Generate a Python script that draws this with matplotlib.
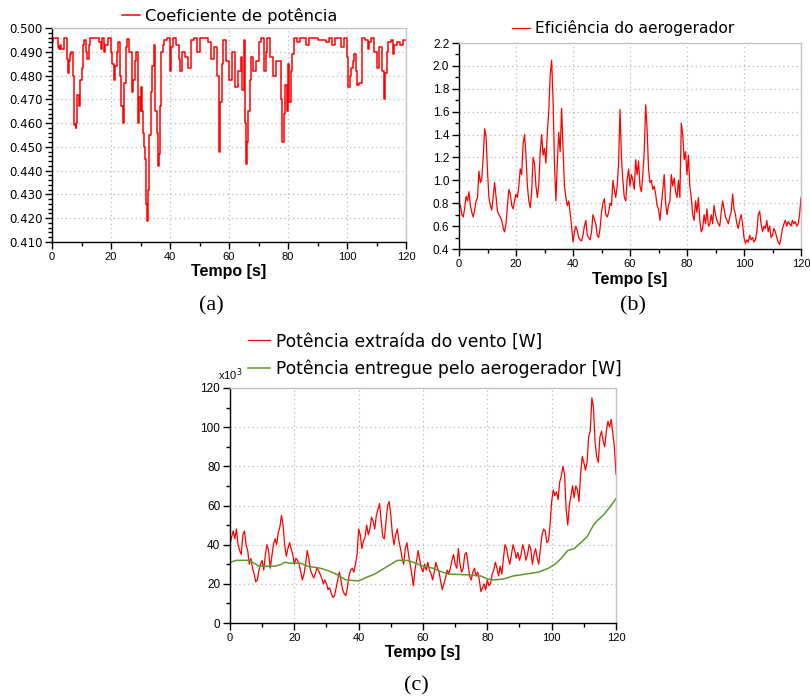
import numpy as np
import matplotlib
matplotlib.use("Agg")
import matplotlib.pyplot as plt
from matplotlib.ticker import MultipleLocator, FormatStrFormatter

# ---------------- data ----------------
# (a) power coefficient
t_cp = [0, 0.5, 2, 2.5, 2.8, 3, 4, 5, 5.3, 5.6,
        6, 6.5, 7, 7.3, 7.5, 8, 8.3, 8.6, 9, 9.5,
        10, 10.5, 11, 11.5, 12, 12.5, 13, 16, 16.5, 17,
        17.5, 18, 19, 20, 20.5, 21, 21.5, 22, 22.5, 23,
        23.5, 24, 24.5, 25, 25.5, 26, 27, 27.5, 28, 28.5,
        29, 29.3, 29.6, 30, 30.3, 30.6, 31, 31.3, 31.6, 32,
        32.3, 32.6, 32.8, 33, 33.5, 34, 34.5, 34.8, 35, 35.5,
        36, 36.3, 36.6, 37, 37.5, 38, 39, 40, 40.5, 41,
        42, 43, 43.5, 44, 45, 46, 47, 48, 49, 50,
        53, 54, 55, 56, 56.5, 57, 57.5, 58, 59, 60,
        61, 62, 63, 64, 64.5, 65, 65.5, 65.8, 66.2, 66.6,
        67, 67.5, 68, 69, 70, 71, 72, 72.5, 73, 74,
        75, 76, 77, 77.5, 78, 78.5, 79, 79.5, 80, 80.5,
        81, 81.5, 82, 83, 84, 86, 87, 90, 93, 94,
        95, 96, 98, 99, 100, 100.5, 101, 101.5, 102, 102.5,
        103, 103.5, 104, 105, 106, 107, 107.5, 108, 109, 110,
        111, 112, 112.5, 113, 113.5, 114, 115, 115.5, 116, 117,
        118, 119, 120]
cp = [0.494, 0.496, 0.492, 0.491, 0.493, 0.491, 0.496, 0.487, 0.481, 0.486,
      0.489, 0.490, 0.480, 0.473, 0.459, 0.458, 0.460, 0.472, 0.467, 0.478,
      0.483, 0.493, 0.495, 0.490, 0.487, 0.493, 0.496, 0.494, 0.491, 0.496,
      0.490, 0.493, 0.496, 0.490, 0.485, 0.478, 0.484, 0.490, 0.494, 0.480,
      0.467, 0.460, 0.477, 0.492, 0.4955, 0.490, 0.473, 0.478, 0.486, 0.490,
      0.484, 0.460, 0.471, 0.465, 0.475, 0.465, 0.456, 0.450, 0.445, 0.426,
      0.419, 0.432, 0.440, 0.455, 0.473, 0.484, 0.493, 0.478, 0.465, 0.456,
      0.442, 0.447, 0.467, 0.490, 0.493, 0.495, 0.496, 0.482, 0.492, 0.496,
      0.493, 0.487, 0.482, 0.490, 0.488, 0.483, 0.495, 0.496, 0.490, 0.496,
      0.494, 0.487, 0.492, 0.480, 0.448, 0.469, 0.485, 0.495, 0.486, 0.478,
      0.490, 0.475, 0.482, 0.488, 0.474, 0.495, 0.460, 0.443, 0.452, 0.465,
      0.478, 0.488, 0.482, 0.486, 0.494, 0.496, 0.482, 0.490, 0.496, 0.488,
      0.480, 0.486, 0.486, 0.470, 0.452, 0.464, 0.476, 0.465, 0.485, 0.469,
      0.482, 0.489, 0.496, 0.494, 0.496, 0.493, 0.496, 0.495, 0.494, 0.496,
      0.493, 0.496, 0.492, 0.496, 0.488, 0.475, 0.480, 0.483, 0.486, 0.489,
      0.482, 0.476, 0.477, 0.496, 0.495, 0.491, 0.494, 0.496, 0.490, 0.483,
      0.492, 0.482, 0.470, 0.481, 0.490, 0.494, 0.495, 0.489, 0.493, 0.494,
      0.493, 0.495, 0.495]

# (b) generator efficiency, sampled every 0.5 s
t_eff = np.arange(0, 120.25, 0.5)
eff = [0.80, 0.78, 0.70, 0.68, 0.76, 0.86, 0.82, 0.90, 0.78, 0.72,
       0.68, 0.74, 0.82, 0.85, 1.08, 0.98, 1.02, 1.20, 1.45, 1.38,
       1.08, 0.85, 0.78, 0.74, 0.86, 0.98, 0.85, 0.73, 0.70, 0.68,
       0.65, 0.58, 0.55, 0.62, 0.78, 0.92, 0.88, 0.78, 0.75, 0.82,
       0.88, 0.85, 0.95, 1.10, 1.05, 1.32, 1.40, 1.22, 0.95, 0.82,
       0.76, 0.90, 1.20, 1.15, 0.95, 0.85, 0.96, 1.25, 1.40, 1.22,
       1.28, 1.15, 1.42, 1.60, 1.92, 2.05, 1.70, 1.15, 0.82, 1.15,
       1.42, 1.25, 1.63, 1.28, 0.95, 0.85, 0.78, 0.82, 0.72, 0.60,
       0.46, 0.55, 0.60, 0.56, 0.50, 0.48, 0.47, 0.52, 0.60, 0.65,
       0.52, 0.50, 0.48, 0.55, 0.70, 0.66, 0.62, 0.52, 0.50, 0.58,
       0.72, 0.80, 0.84, 0.70, 0.68, 0.72, 0.80, 0.78, 1.00, 0.92,
       0.85, 0.95, 1.15, 1.62, 1.20, 1.00, 0.85, 0.82, 1.00, 1.10,
       0.95, 1.05, 1.00, 0.92, 1.18, 1.05, 1.17, 0.95, 0.90, 1.05,
       1.25, 1.66, 1.45, 1.10, 0.98, 1.00, 0.92, 0.95, 0.88, 0.78,
       0.75, 0.65, 0.78, 0.90, 1.05, 0.80, 0.70, 0.78, 0.82, 1.05,
       0.95, 1.02, 0.90, 0.85, 1.00, 0.85, 1.50, 1.40, 1.18, 1.25,
       1.05, 1.22, 0.95, 0.85, 0.70, 0.65, 0.82, 0.72, 0.85, 0.65,
       0.55, 0.58, 0.70, 0.62, 0.75, 0.60, 0.62, 0.70, 0.62, 0.78,
       0.70, 0.65, 0.62, 0.60, 0.72, 0.82, 0.75, 0.68, 0.65, 0.62,
       0.68, 0.72, 0.88, 0.75, 0.70, 0.62, 0.58, 0.65, 0.70, 0.62,
       0.50, 0.45, 0.48, 0.46, 0.52, 0.48, 0.50, 0.46, 0.48, 0.55,
       0.70, 0.73, 0.62, 0.55, 0.60, 0.58, 0.65, 0.55, 0.60, 0.50,
       0.52, 0.58, 0.55, 0.50, 0.46, 0.44, 0.50, 0.58, 0.62, 0.65,
       0.60, 0.64, 0.62, 0.60, 0.65, 0.62, 0.64, 0.60, 0.62, 0.70,
       0.85]

# (c) extracted wind power (x10^3 W), sampled every 0.5 s
t_wind = np.arange(0, 120.25, 0.5)
p_wind = [40, 44, 47, 43, 48, 40, 37, 35, 45, 47,
          40, 37, 30, 33, 28, 25, 21, 22, 27, 30,
          32, 27, 35, 40, 37, 28, 34, 40, 43, 40,
          46, 49, 55, 50, 40, 34, 38, 41, 38, 35,
          30, 33, 32, 30, 26, 22, 25, 30, 37, 33,
          27, 25, 23, 25, 28, 27, 25, 23, 20, 22,
          20, 17, 18, 15, 13, 14, 18, 22, 26, 22,
          17, 15, 14, 18, 24, 27, 28, 26, 30, 35,
          48, 45, 38, 42, 44, 50, 45, 48, 54, 52,
          48, 55, 58, 61, 52, 44, 43, 52, 60, 62,
          55, 45, 40, 45, 48, 42, 38, 33, 30, 38,
          41, 35, 30, 25, 19, 27, 32, 37, 32, 28,
          26, 30, 27, 31, 27, 25, 22, 26, 31, 28,
          26, 21, 17, 20, 23, 27, 25, 28, 32, 35,
          30, 28, 38, 30, 26, 28, 35, 36, 30, 24,
          22, 26, 28, 24, 26, 22, 16, 18, 20, 17,
          22, 19, 20, 25, 27, 31, 28, 24, 29, 25,
          33, 40, 38, 33, 30, 35, 40, 37, 33, 36,
          32, 35, 40, 37, 32, 35, 40, 38, 30, 35,
          38, 33, 30, 38, 45, 48, 47, 41, 42, 50,
          62, 68, 65, 67, 63, 72, 75, 80, 76, 58,
          50, 60, 65, 70, 64, 70, 68, 62, 76, 85,
          82, 78, 82, 95, 98, 115, 110, 92, 85, 82,
          95, 98, 93, 90, 98, 103, 100, 104, 97, 90,
          76]

# (c) power delivered by the generator (x10^3 W)
t_gen = [0, 2, 6, 8, 9, 14, 16, 17, 19, 22,
         24, 28, 30, 33, 35, 36, 40, 42, 45, 48,
         50, 52, 55, 57, 60, 63, 66, 68, 75, 78,
         80, 82, 85, 88, 92, 96, 99, 101, 103, 104,
         105, 107, 109, 111, 112, 113, 114, 116, 118, 120]
p_gen = [31, 32, 32, 30, 29, 29, 30, 31, 30.5, 30.5,
         29, 28, 27, 25, 23, 22, 21.5, 23, 25, 28,
         30, 32, 32, 31, 29, 28, 26, 25, 24.5, 24,
         22.5, 22, 22.5, 24, 25, 26, 28, 30, 33, 35,
         37, 38, 41, 44, 47, 50, 52, 55, 59, 63.5]

# ---------------- styling ----------------
W, H = 810, 696
SANS = ["Liberation Sans", "DejaVu Sans"]
LEGEND_FONT = ["DejaVu Sans"]
NARROW = ["Liberation Sans Narrow", "Liberation Sans", "DejaVu Sans"]
RED = "#ff0000"
GREEN = "#5a9a2a"

fig = plt.figure(figsize=(W / 100, H / 100), dpi=100)
fig.patch.set_facecolor("white")


def px_axes(left, top, right, bottom):
    return fig.add_axes([left / W, 1 - bottom / H, (right - left) / W, (bottom - top) / H])


def style(ax, ymaj, ymin, yfmt, yfont, ysize):
    for s in ("top", "right"):
        ax.spines[s].set_color("#c4c4c4")
        ax.spines[s].set_linewidth(1.0)
    for s in ("left", "bottom"):
        ax.spines[s].set_color("black")
        ax.spines[s].set_linewidth(1.0)
    ax.set_xlim(0, 120)
    ax.xaxis.set_major_locator(MultipleLocator(20))
    ax.xaxis.set_minor_locator(MultipleLocator(10))
    ax.yaxis.set_major_locator(MultipleLocator(ymaj))
    ax.yaxis.set_minor_locator(MultipleLocator(ymin))
    ax.yaxis.set_major_formatter(FormatStrFormatter(yfmt))
    ax.tick_params(which="major", direction="out", length=5, width=1, pad=2)
    ax.tick_params(which="minor", direction="out", length=3, width=1)
    ax.tick_params(top=False, right=False, which="both")
    for lab in ax.get_xticklabels():
        lab.set_family(NARROW)
        lab.set_fontsize(8)
    for lab in ax.get_yticklabels():
        lab.set_family(yfont)
        lab.set_fontsize(ysize)
    ax.grid(True, which="major", color="#b8b8b8", linestyle=(0, (1, 2.5)), linewidth=0.9)
    ax.set_axisbelow(True)
    ax.set_xlabel("Tempo [s]", family=SANS, fontsize=11.5, fontweight="bold", labelpad=2)


# (a)
ax_a = px_axes(52, 28, 406, 242)
ax_a.set_ylim(0.410, 0.500)
ln_a, = ax_a.plot(t_cp, cp, color=RED, lw=1.1, drawstyle="steps-post",
                  label="Coeficiente de potência")
style(ax_a, 0.01, 0.002, "%.3f", ["DejaVu Sans"], 8.5)
ax_a.legend(handles=[ln_a], loc="center left", bbox_to_anchor=(122 / W, 1 - 16 / H),
            bbox_transform=fig.transFigure, frameon=False,
            prop={"family": LEGEND_FONT, "size": 11.7}, handlelength=1.1, handletextpad=0.3,
            borderpad=0, borderaxespad=0)

# (b)
ax_b = px_axes(459, 43, 801, 249)
ax_b.set_ylim(0.4, 2.2)
ln_b, = ax_b.plot(t_eff, eff, color=RED, lw=0.9, label="Eficiência do aerogerador")
style(ax_b, 0.2, 0.1, "%.1f", SANS, 8.5)
ax_b.legend(handles=[ln_b], loc="center left", bbox_to_anchor=(512 / W, 1 - 28 / H),
            bbox_transform=fig.transFigure, frameon=False,
            prop={"family": LEGEND_FONT, "size": 11.2}, handlelength=1.15, handletextpad=0.3,
            borderpad=0, borderaxespad=0)

# (c)
ax_c = px_axes(230, 388, 616, 623)
ax_c.set_ylim(0, 120)
ln_w, = ax_c.plot(t_wind, p_wind, color=RED, lw=0.9, label="Potência extraída do vento [W]")
ln_g, = ax_c.plot(t_gen, p_gen, color=GREEN, lw=1.1, label="Potência entregue pelo aerogerador [W]")
style(ax_c, 20, 10, "%d", SANS, 8.5)
ax_c.legend(handles=[ln_w, ln_g], loc="center left", bbox_to_anchor=(248 / W, 1 - 355 / H),
            bbox_transform=fig.transFigure, frameon=False,
            prop={"family": LEGEND_FONT, "size": 12.3}, handlelength=1.3, handletextpad=0.35,
            labelspacing=0.5, borderpad=0, borderaxespad=0)
fig.text(218 / W, 1 - 380 / H, r"x10$^3$", family=SANS, fontsize=8, ha="left", va="baseline")

# panel captions
for lbl, x, y in (("(a)", 211, 306), ("(b)", 633, 306), ("(c)", 416, 686)):
    fig.text(x / W, 1 - y / H, lbl, family=["Liberation Serif", "DejaVu Serif"],
             fontsize=16, ha="center", va="center")

fig.savefig("out.png", dpi=100)
